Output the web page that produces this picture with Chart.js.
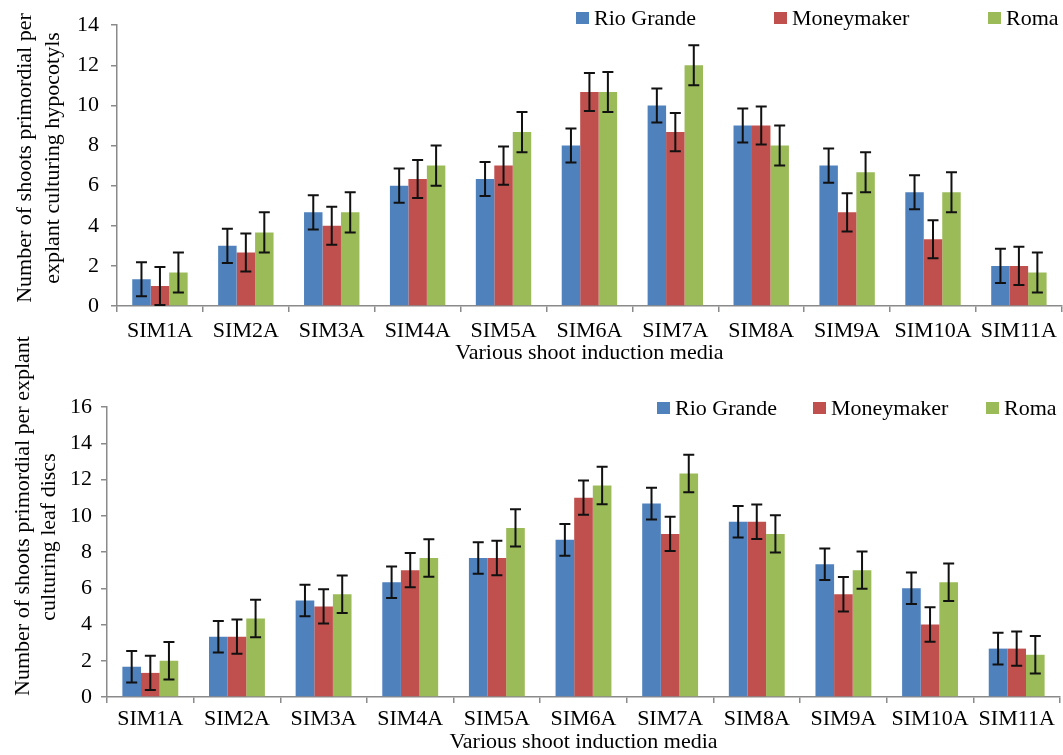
<!DOCTYPE html>
<html><head><meta charset="utf-8">
<script src="https://cdn.jsdelivr.net/npm/chart.js@4.4.1/dist/chart.umd.min.js"></script>
<style>
html,body{margin:0;padding:0;background:#fff;width:1063px;height:755px;overflow:hidden}
.box{position:absolute;left:0;width:1063px}
#c1w{top:0;height:378px}
#c2w{top:330px;height:425px}
</style></head><body>
<div class="box" id="c1w"><canvas id="c1"></canvas></div>
<div class="box" id="c2w"><canvas id="c2"></canvas></div>
<script>
const categories = ['SIM1A','SIM2A','SIM3A','SIM4A','SIM5A','SIM6A','SIM7A','SIM8A','SIM9A','SIM10A','SIM11A'];
const seriesNames = ['Rio Grande','Moneymaker','Roma'];
const seriesColors = ['#4F81BD','#C0504D','#9BBB59'];

// Top chart: hypocotyls
const hypoRioGrande  = [1.33, 3.00, 4.67, 6.00, 6.33, 8.00, 10.00, 9.00, 7.00, 5.67, 2.00];
const hypoMoneymaker = [1.00, 2.67, 4.00, 6.33, 7.00, 10.67, 8.67, 9.00, 4.67, 3.33, 2.00];
const hypoRoma       = [1.67, 3.67, 4.67, 7.00, 8.67, 10.67, 12.00, 8.00, 6.67, 5.67, 1.67];
const hypoErrRioGrande  = [0.85, 0.85, 0.85, 0.85, 0.85, 0.85, 0.85, 0.85, 0.85, 0.85, 0.85];
const hypoErrMoneymaker = [0.95, 0.95, 0.95, 0.95, 0.95, 0.95, 0.95, 0.95, 0.95, 0.95, 0.95];
const hypoErrRoma       = [1.00, 1.00, 1.00, 1.00, 1.00, 1.00, 1.00, 1.00, 1.00, 1.00, 1.00];
const hypoTicks = [0, 2, 4, 6, 8, 10, 12, 14];

// Bottom chart: leaf discs
const leafRioGrande  = [1.67, 3.33, 5.33, 6.33, 7.67, 8.67, 10.67, 9.67, 7.33, 6.00, 2.67];
const leafMoneymaker = [1.33, 3.33, 5.00, 7.00, 7.67, 11.00, 9.00, 9.67, 5.67, 4.00, 2.67];
const leafRoma       = [2.00, 4.33, 5.67, 7.67, 9.33, 11.67, 12.33, 9.00, 7.00, 6.33, 2.33];
const leafErrRioGrande  = [0.87, 0.87, 0.87, 0.87, 0.87, 0.87, 0.87, 0.87, 0.87, 0.87, 0.87];
const leafErrMoneymaker = [0.95, 0.95, 0.95, 0.95, 0.95, 0.95, 0.95, 0.95, 0.95, 0.95, 0.95];
const leafErrRoma       = [1.03, 1.03, 1.03, 1.03, 1.03, 1.03, 1.03, 1.03, 1.03, 1.03, 1.03];
const leafTicks = [0, 2, 4, 6, 8, 10, 12, 14, 16];

const FONT = '"Liberation Serif", "Times New Roman", serif';
const AXIS_GRAY = '#8a8a8a';

const errorBarPlugin = {
  id: 'errorBars',
  afterDatasetsDraw(chart) {
    const ctx = chart.ctx;
    const yScale = chart.scales.y;
    ctx.save();
    ctx.strokeStyle = '#111';
    ctx.lineWidth = 2;
    chart.data.datasets.forEach((ds, i) => {
      const meta = chart.getDatasetMeta(i);
      meta.data.forEach((bar, j) => {
        const v = ds.data[j], e = ds.errors[j];
        const yt = yScale.getPixelForValue(v + e);
        const yb = yScale.getPixelForValue(v - e);
        const x = bar.x, cap = 5.5;
        ctx.beginPath();
        ctx.moveTo(x, yt); ctx.lineTo(x, yb);
        ctx.moveTo(x - cap, yt); ctx.lineTo(x + cap, yt);
        ctx.moveTo(x - cap, yb); ctx.lineTo(x + cap, yb);
        ctx.stroke();
      });
    });
    ctx.restore();
  }
};

const customLegendPlugin = {
  id: 'customLegend',
  afterDraw(chart, args, opts) {
    const ctx = chart.ctx;
    ctx.save();
    ctx.font = '22px ' + FONT;
    ctx.textBaseline = 'middle';
    ctx.textAlign = 'left';
    chart.data.datasets.forEach((ds, i) => {
      const x = opts.xs[i], y = opts.y;
      ctx.fillStyle = ds.backgroundColor;
      ctx.fillRect(x, y - 6, 13, 12);
      ctx.fillStyle = '#000';
      ctx.fillText(ds.label, x + 18, y + 1);
    });
    ctx.restore();
  }
};

const yTitlePlugin = {
  id: 'yTitle',
  afterDraw(chart, args, opts) {
    const ctx = chart.ctx;
    ctx.save();
    ctx.font = '22px ' + FONT;
    ctx.fillStyle = '#000';
    ctx.textAlign = 'center';
    ctx.textBaseline = 'middle';
    opts.lines.forEach((t, i) => {
      ctx.save();
      ctx.translate(opts.xs[i], opts.ys[i]);
      ctx.rotate(-Math.PI / 2);
      ctx.fillText(t, 0, 0);
      ctx.restore();
    });
    ctx.restore();
  }
};

function makeChart(id, series, errs, ticks, yTitle, cfg) {
  return new Chart(document.getElementById(id), {
    type: 'bar',
    data: {
      labels: categories,
      datasets: series.map((s, i) => ({
        label: seriesNames[i],
        data: s,
        errors: errs[i],
        backgroundColor: seriesColors[i],
        borderWidth: 0,
        barPercentage: 1.0,
        categoryPercentage: 0.645
      }))
    },
    options: {
      responsive: true,
      maintainAspectRatio: false,
      animation: false,
      layout: { padding: { top: cfg.padTop, right: cfg.padRight, bottom: 0, left: 0 } },
      plugins: {
        legend: { display: false },
        tooltip: { enabled: false },
        customLegend: { xs: cfg.legendXs, y: cfg.legendY },
        yTitle: { lines: yTitle, xs: cfg.yTitleXs, ys: cfg.yTitleYs }
      },
      scales: {
        x: {
          type: 'category',
          grid: { display: true, drawOnChartArea: false, offset: true, tickLength: 6, color: AXIS_GRAY, lineWidth: 1.5 },
          border: { display: true, color: AXIS_GRAY, width: 1.5 },
          ticks: { color: '#000', font: { family: FONT, size: 22 }, padding: cfg.xTickPad, maxRotation: 0, autoSkip: false },
          title: { display: true, text: 'Various shoot induction media', color: '#000', font: { family: FONT, size: 22 }, padding: { top: 0, bottom: cfg.xTitlePad } },
          afterFit(scale) { scale.height = cfg.xHeight; }
        },
        y: {
          min: 0,
          max: ticks[ticks.length - 1],
          afterBuildTicks(scale) { scale.ticks = ticks.map(v => ({ value: v })); },
          grid: { display: true, drawOnChartArea: false, tickLength: 6, color: AXIS_GRAY, lineWidth: 1.5 },
          border: { display: true, color: AXIS_GRAY, width: 1.5 },
          ticks: { color: '#000', font: { family: FONT, size: 22 }, padding: cfg.yTickPad },
          title: { display: false },
          afterFit(scale) { scale.width = cfg.yWidth; }
        }
      }
    },
    plugins: [errorBarPlugin, customLegendPlugin, yTitlePlugin]
  });
}

makeChart('c1',
  [hypoRioGrande, hypoMoneymaker, hypoRoma],
  [hypoErrRioGrande, hypoErrMoneymaker, hypoErrRoma],
  hypoTicks,
  ['Number of shoots primordial per', 'explant culturing hypocotyls'],
  { padTop: 20, padRight: 0, xHeight: 72, xTickPad: 6, xTitlePad: 12, yWidth: 117, yTickPad: 12,
    yTitleXs: [25, 53], yTitleYs: [158, 158], legendXs: [576, 774, 988], legendY: 18 });

makeChart('c2',
  [leafRioGrande, leafMoneymaker, leafRoma],
  [leafErrRioGrande, leafErrMoneymaker, leafErrRoma],
  leafTicks,
  ['Number of shoots primordial per explant', 'culturing leaf discs'],
  { padTop: 77, padRight: 3, xHeight: 58, xTickPad: 3, xTitlePad: 0, yWidth: 107, yTickPad: 9,
    yTitleXs: [23, 49], yTitleYs: [186, 207], legendXs: [657, 813, 986], legendY: 78 });
</script>
</body></html>
